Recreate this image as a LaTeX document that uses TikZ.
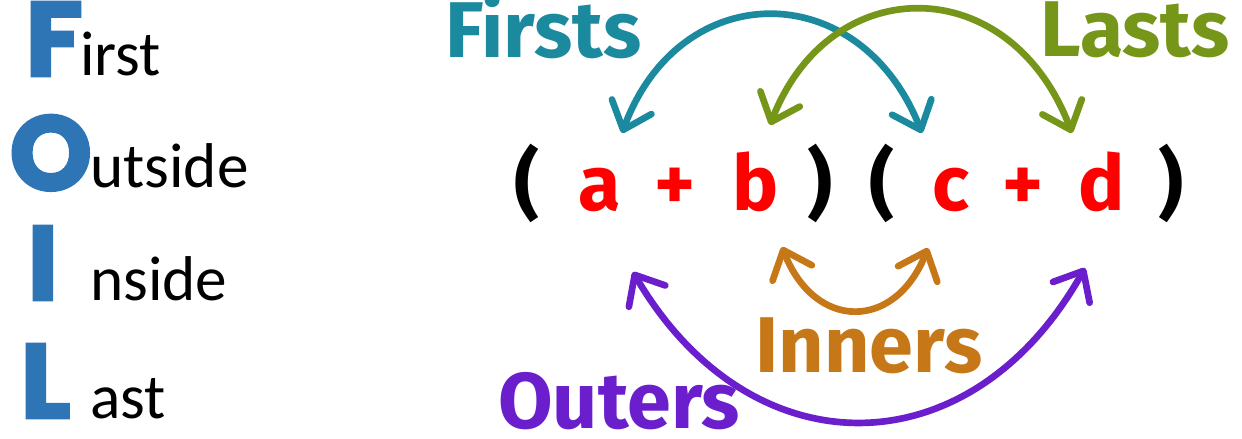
\documentclass[tikz,border=0pt]{standalone}
\usepackage{fontspec}
\setmainfont{Carlito}
\newfontfamily\handfont{Fira Sans}
\newfontfamily\capfont{Poppins}[BoldFeatures={FakeBold=2.5}]
\usetikzlibrary{arrows.meta}

\definecolor{foilblue}{HTML}{2E75B6}
\definecolor{termred}{HTML}{FF0000}
\definecolor{firstcol}{HTML}{1B8A9E}
\definecolor{lastcol}{HTML}{76961A}
\definecolor{innercol}{HTML}{C67818}
\definecolor{outercol}{HTML}{6A1ECC}

\tikzset{
  bigletter/.style={anchor=base west, inner sep=0pt, text=foilblue,
    font=\capfont\bfseries\fontsize{60}{60}\selectfont},
  restword/.style={anchor=base west, inner sep=0pt,
    font=\fontsize{36}{36}\selectfont},
  term/.style={anchor=base, inner sep=0pt, text=termred,
    font=\handfont\bfseries\fontsize{44}{44}\selectfont},
  paren/.style={term, text=black},
  tag/.style={anchor=base west, inner sep=0pt,
    font=\handfont\bfseries\fontsize{45}{45}\selectfont},
  pairarrow/.style={line width=3.8pt, line cap=round,
    {Straight Barb[length=14pt,width=24pt,round]}-{Straight Barb[length=14pt,width=24pt,round]}}
}

\begin{document}
\begin{tikzpicture}[x=0.02cm, y=-0.02cm]
  \useasboundingbox (0,0) rectangle (1242,439);

  \node[bigletter] (F) at (25,76) {F};
  \node[restword] (irst) at (80,76) {irst};
  \node[bigletter] (O) at (9,190) {O};
  \node[restword] (utside) at (90,188) {utside};
  \node[bigletter] (I) at (27,300) {I};
  \node[restword] (nside) at (90,300) {nside};
  \node[bigletter] (L) at (20,418) {L};
  \node[restword] (ast) at (90,418) {ast};

  \node[paren] (lp1) at (527,211) {(};
  \node[term] (a) at (600,211) {a};
  \node[term] (plus1) at (675,211) {+};
  \node[term] (b) at (756,211) {b};
  \node[paren] (rp1) at (820,211) {)};
  \node[paren] (lp2) at (882,211) {(};
  \node[term] (c) at (951,211) {c};
  \node[term] (plus2) at (1023,211) {+};
  \node[term] (d) at (1102,211) {d};
  \node[paren] (rp2) at (1171,211) {)};

  \coordinate (firstA) at (622,133);
  \coordinate (firstC) at (922,133);
  \coordinate (lastB) at (770,125);
  \coordinate (lastD) at (1072,133);
  \coordinate (innerB) at (782,247);
  \coordinate (innerC) at (928,248);
  \coordinate (outerA) at (633,272);
  \coordinate (outerD) at (1085,268);

  \draw[pairarrow, firstcol] (firstA) .. controls (680,-24) and (860,-24) .. (firstC);
  \draw[pairarrow, lastcol] (lastB) .. controls (830,-30) and (1010,-30) .. (lastD);
  \draw[pairarrow, innercol] (innerB) .. controls (815,331) and (895,331) .. (innerC);
  \draw[pairarrow, outercol] (outerA) .. controls (750,472) and (970,472) .. (outerD);

  \node[tag, text=firstcol] (firsts) at (445,58) {Firsts};
  \node[tag, text=lastcol] (lasts) at (1040,57) {Lasts};
  \node[tag, text=innercol] (inners) at (755,372) {Inners};
  \node[tag, text=outercol] (outers) at (498,428) {Outers};
\end{tikzpicture}
\end{document}
